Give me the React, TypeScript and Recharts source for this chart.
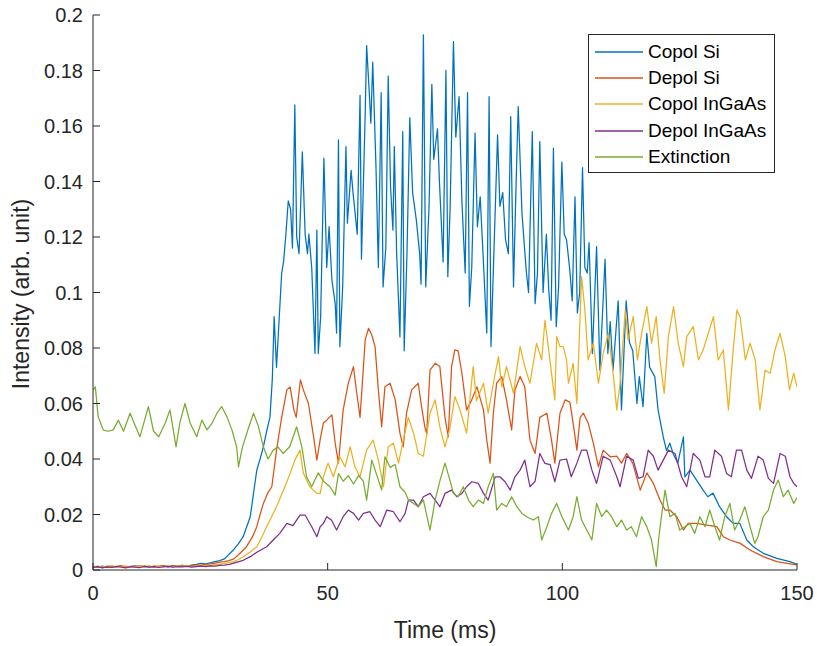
import React from "react";
import { LineChart, Line, XAxis, YAxis, Legend } from "recharts";

const xTicks = [0, 50, 100, 150];
const yTicks = [0, 0.02, 0.04, 0.06, 0.08, 0.1, 0.12, 0.14, 0.16, 0.18, 0.2];
const yTickLabels = ["0", "0.02", "0.04", "0.06", "0.08", "0.1", "0.12", "0.14", "0.16", "0.18", "0.2"];
const xTickLabels = ["0", "50", "100", "150"];

const seriesNames = ["Copol Si", "Depol Si", "Copol InGaAs", "Depol InGaAs", "Extinction"];
const seriesColors = ["#0072BD", "#D95319", "#EDB120", "#7E2F8E", "#77AC30"];

// [time (ms), intensity]
const copolSi: number[][] = [
  [0, 0.0012], [1, 0.001], [2, 0.0014], [3, 0.0009], [4, 0.0013], [5, 0.0011], [6, 0.0015], [7, 0.001], [8, 0.0012], [9, 0.0016],
  [10, 0.0011], [11, 0.0013], [12, 0.001], [13, 0.0014], [14, 0.0012], [15, 0.0015], [16, 0.0011], [17, 0.0016], [18, 0.0013], [19, 0.0017],
  [20, 0.0014], [21, 0.0018], [22, 0.002], [23, 0.0024], [24, 0.0022], [25, 0.0026], [26, 0.003], [27, 0.0034], [28, 0.004],
  [29.9, 0.0072], [31, 0.0095], [32, 0.012], [33.5, 0.0192], [34.2, 0.0276], [34.9, 0.036], [35.6, 0.04], [36.3, 0.0444], [37, 0.05], [37.7, 0.055],
  [38.2, 0.0685], [38.6, 0.0913], [39.1, 0.073], [40.2, 0.107], [40.6, 0.111], [41.1, 0.121], [41.6, 0.133], [42.1, 0.13], [42.5, 0.116], [43.0, 0.1676],
  [43.4, 0.12], [43.9, 0.114], [44.3, 0.1345], [44.6, 0.1507], [45.2, 0.121], [45.7, 0.114], [46.0, 0.121], [46.6, 0.109], [47.3, 0.078], [47.7, 0.1225],
  [48.0, 0.078], [48.5, 0.091], [49.2, 0.1484], [49.8, 0.109], [50.3, 0.1237], [50.9, 0.1045], [51.6, 0.096], [51.9, 0.0854], [52.3, 0.155], [52.6, 0.0805],
  [53.2, 0.102], [53.9, 0.1526], [54.2, 0.125], [55.0, 0.144], [55.4, 0.136], [56.3, 0.121], [56.9, 0.171], [57.2, 0.112], [58.0, 0.1647], [58.3, 0.189],
  [58.8, 0.174], [59.2, 0.161], [59.6, 0.183], [60.3, 0.145], [60.8, 0.109], [61.4, 0.172], [61.8, 0.102], [62.4, 0.1165], [62.9, 0.178], [63.4, 0.138],
  [63.9, 0.1225], [64.2, 0.1526], [64.7, 0.114], [65.4, 0.084], [66.0, 0.158], [66.3, 0.079], [66.9, 0.114], [67.5, 0.163], [68.1, 0.136], [68.9, 0.126],
  [69.6, 0.114], [69.9, 0.103], [70.4, 0.1928], [70.9, 0.102], [71.6, 0.131], [72.2, 0.175], [72.6, 0.148], [73.4, 0.159], [73.8, 0.1405], [74.6, 0.111],
  [75.2, 0.18], [75.6, 0.1057], [76.1, 0.131], [76.8, 0.1904], [77.3, 0.156], [78.0, 0.1706], [78.6, 0.133], [79.3, 0.107], [79.8, 0.172], [80.2, 0.095],
  [80.7, 0.109], [81.4, 0.1575], [81.9, 0.1237], [82.5, 0.1345], [83.1, 0.114], [83.9, 0.0854], [84.4, 0.1706], [84.8, 0.0805], [85.3, 0.108], [86.2, 0.1568],
  [86.7, 0.131], [87.3, 0.136], [87.9, 0.119], [88.5, 0.114], [89.0, 0.1634], [89.6, 0.102], [90.1, 0.136], [90.6, 0.167], [91.4, 0.1286], [92.3, 0.108],
  [92.8, 0.1], [93.6, 0.158], [94.2, 0.096], [94.7, 0.107], [95.2, 0.1544], [95.9, 0.1], [96.6, 0.121], [97.1, 0.101], [97.6, 0.09], [98.1, 0.152],
  [98.7, 0.0877], [99.2, 0.102], [99.9, 0.147], [100.4, 0.121], [100.9, 0.119], [101.6, 0.108], [102.1, 0.097], [102.7, 0.1345], [103.2, 0.0926], [103.7, 0.1],
  [104.3, 0.145], [104.8, 0.109], [105.3, 0.107], [105.7, 0.118], [106.4, 0.078], [107.3, 0.1165], [108.0, 0.072], [109.1, 0.112], [109.7, 0.078], [110.2, 0.0895],
  [110.8, 0.072], [111.9, 0.097], [112.6, 0.0577], [113.6, 0.097], [114.3, 0.082], [115.0, 0.079], [115.9, 0.06], [116.4, 0.0697], [117.2, 0.0589], [118.0, 0.0853],
  [118.6, 0.073], [119.7, 0.0697], [120.4, 0.0577], [121.5, 0.048], [122.2, 0.043], [122.9, 0.0457], [123.6, 0.042], [124.6, 0.0385], [125.8, 0.048], [126.1, 0.0336],
  [127.2, 0.036], [128.6, 0.0324], [130.0, 0.0288], [131.0, 0.0264], [132.1, 0.0277], [133.5, 0.0228], [135.0, 0.0192], [136.4, 0.0168], [137.8, 0.0168], [139.3, 0.0108],
  [140.7, 0.0084], [142.8, 0.006], [145.7, 0.0042], [148.5, 0.003], [150, 0.002],
];

const depolSi: number[][] = [
  [0, 0.001], [1, 0.0013], [2, 0.0009], [3, 0.0014], [4, 0.0011], [5, 0.0012], [6, 0.0016], [7, 0.001], [8, 0.0013], [9, 0.0011],
  [10, 0.0015], [11, 0.0012], [12, 0.0014], [13, 0.001], [14, 0.0013], [15, 0.0016], [16, 0.0012], [17, 0.0015], [18, 0.0013], [19, 0.0017],
  [20, 0.0014], [21, 0.0016], [22, 0.0018], [23, 0.0017], [24, 0.002], [25, 0.0022], [26, 0.0025], [27, 0.0028], [28, 0.003], [29, 0.0034],
  [30, 0.004], [31, 0.0055], [32.7, 0.0084], [34, 0.012], [34.9, 0.0156], [35.6, 0.02], [36.3, 0.024], [37.3, 0.028], [38.1, 0.03], [39.1, 0.0432],
  [40.2, 0.055], [41.3, 0.0649], [42, 0.066], [42.8, 0.0577], [43.3, 0.055], [44.2, 0.0685], [44.8, 0.065], [45.9, 0.06], [47, 0.048], [47.7, 0.0396],
  [48.4, 0.047], [49.1, 0.053], [49.8, 0.054], [50.9, 0.0559], [51.6, 0.0457], [52.3, 0.0385], [53.3, 0.0577], [54.4, 0.0673], [55.5, 0.0733], [56.2, 0.0637],
  [56.9, 0.055], [58.0, 0.0829], [58.7, 0.0871], [59.4, 0.0847], [60.1, 0.0805], [60.8, 0.0649], [61.5, 0.0516], [62.2, 0.066], [63.3, 0.0673], [64.4, 0.0613],
  [65.4, 0.0493], [66.1, 0.0444], [66.8, 0.0565], [67.9, 0.0649], [69.3, 0.0673], [70.0, 0.0589], [70.7, 0.0516], [71.1, 0.049], [71.8, 0.072], [72.9, 0.0745],
  [73.9, 0.0733], [75.0, 0.055], [75.7, 0.048], [76.4, 0.0733], [77.1, 0.0793], [77.8, 0.079], [78.6, 0.0709], [79.6, 0.0577], [80.7, 0.0613], [81.8, 0.066],
  [83.2, 0.0577], [83.9, 0.0468], [84.6, 0.0385], [85.3, 0.0565], [86.0, 0.0673], [87.1, 0.0697], [88.1, 0.0613], [89.2, 0.0505], [89.9, 0.0649], [91.0, 0.0697],
  [92.0, 0.066], [93.1, 0.0468], [94.2, 0.042], [95.2, 0.055], [96.7, 0.0565], [97.7, 0.0468], [98.4, 0.0385], [99.5, 0.0565], [100.6, 0.0613], [101.6, 0.0605],
  [102.3, 0.0529], [103.1, 0.0432], [103.8, 0.055], [104.5, 0.0565], [105.5, 0.053], [106.6, 0.0457], [107.7, 0.0372], [108.7, 0.0432], [110.2, 0.0408], [111.6, 0.041],
  [112.6, 0.0385], [113.7, 0.042], [115.0, 0.0385], [116.6, 0.0288], [118.0, 0.035], [119.4, 0.0312], [120.8, 0.0252], [121.9, 0.0216], [122.9, 0.0216], [124.4, 0.0192],
  [125.8, 0.0144], [126.8, 0.0168], [128.6, 0.0168], [130.8, 0.0162], [132.9, 0.0156], [134.3, 0.012], [135.7, 0.0108], [137.9, 0.0096], [140, 0.0072], [142.8, 0.0048],
  [145.7, 0.003], [149.2, 0.002], [150, 0.0018],
];

const copolInGaAs: number[][] = [
  [0, 0.0011], [1, 0.0014], [2, 0.001], [3, 0.0013], [4, 0.0016], [5, 0.0011], [6, 0.0013], [7, 0.0015], [8, 0.001], [9, 0.0014],
  [10, 0.0012], [11, 0.0016], [12, 0.0011], [13, 0.0013], [14, 0.0015], [15, 0.0012], [16, 0.0014], [17, 0.0011], [18, 0.0015], [19, 0.0013],
  [20, 0.0016], [21, 0.0012], [22, 0.0015], [23, 0.0014], [24, 0.0017], [25, 0.0016], [26, 0.0019], [27, 0.002], [28, 0.0024], [29, 0.0027],
  [30, 0.003], [31, 0.0038], [32, 0.0048], [33.5, 0.0065], [34.9, 0.0084], [36, 0.012], [37, 0.0156], [38, 0.019], [39.1, 0.0228], [40.6, 0.0288],
  [42, 0.0348], [43, 0.0396], [44.1, 0.0432], [44.8, 0.035], [46.2, 0.03], [47.7, 0.0276], [48.4, 0.0276], [49.1, 0.0336], [49.8, 0.0372], [50.1, 0.0385],
  [51.2, 0.0336], [52.6, 0.0408], [53.7, 0.0372], [54.8, 0.0444], [55.8, 0.0372], [56.9, 0.0336], [58.3, 0.0432], [59.7, 0.0468], [60.8, 0.0396], [61.9, 0.03],
  [62.9, 0.0444], [64, 0.0457], [65.1, 0.0385], [66.1, 0.0468], [67.2, 0.055], [68.3, 0.0493], [69.3, 0.042], [70.4, 0.041], [71.8, 0.0565], [72.9, 0.0613],
  [73.9, 0.0516], [75, 0.0444], [76.1, 0.0516], [77.1, 0.0625], [78.2, 0.0577], [79.6, 0.0493], [81, 0.0733], [81.7, 0.061], [83.2, 0.0673], [84.2, 0.0565],
  [85.3, 0.0673], [86.4, 0.0769], [87.1, 0.066], [88.1, 0.0733], [89.6, 0.0637], [91, 0.0805], [92, 0.0733], [93.1, 0.0673], [94.5, 0.0817], [95.6, 0.0757],
  [96.3, 0.09], [97.4, 0.075], [98.4, 0.0613], [98.8, 0.0841], [99.5, 0.0805], [100.2, 0.0805], [100.9, 0.0757], [101.3, 0.0673], [102.3, 0.0745], [103.1, 0.06],
  [104.1, 0.1057], [104.8, 0.094], [105.5, 0.0757], [106.6, 0.0817], [107.7, 0.0673], [108.7, 0.078], [109.8, 0.0853], [110.9, 0.0697], [111.6, 0.0577], [112.3, 0.0673],
  [113.4, 0.0937], [114, 0.0829], [115.1, 0.0913], [116, 0.0757], [116.9, 0.0853], [118, 0.0949], [119, 0.0817], [120, 0.0913], [120.8, 0.0757], [121.7, 0.0637],
  [122.6, 0.0841], [123.7, 0.0949], [124.7, 0.0817], [125.8, 0.0733], [126.5, 0.0841], [127.9, 0.0877], [129, 0.0757], [130, 0.0793], [131.1, 0.0853], [132.2, 0.0913],
  [133.2, 0.0757], [134.3, 0.0793], [135.4, 0.0577], [136.4, 0.0793], [137.2, 0.0937], [137.9, 0.091], [139, 0.0757], [140, 0.0817], [141.1, 0.0757], [142.1, 0.0577],
  [143.2, 0.072], [144.3, 0.0709], [145.3, 0.0793], [146.4, 0.0853], [147.5, 0.0769], [148.4, 0.0649], [149.3, 0.0709], [150, 0.066],
];

const depolInGaAs: number[][] = [
  [0, 0.0009], [1, 0.0012], [2, 0.0008], [3, 0.0011], [4, 0.0009], [5, 0.0013], [6, 0.001], [7, 0.0008], [8, 0.0012], [9, 0.001],
  [10, 0.0009], [11, 0.0013], [12, 0.001], [13, 0.0012], [14, 0.0009], [15, 0.0011], [16, 0.0013], [17, 0.001], [18, 0.0012], [19, 0.0011],
  [20, 0.0013], [21, 0.001], [22, 0.0012], [23, 0.0014], [24, 0.0012], [25, 0.0015], [26, 0.0014], [27, 0.0017], [28, 0.0018], [29, 0.002],
  [30, 0.0025], [32, 0.0035], [33.5, 0.0048], [35, 0.0065], [37, 0.0084], [38.5, 0.011], [39.8, 0.0132], [41.3, 0.0168], [42.6, 0.016], [44.1, 0.0198],
  [45.2, 0.0198], [46.6, 0.0156], [47.7, 0.012], [48.4, 0.0156], [49.1, 0.0168], [49.8, 0.0192], [50.8, 0.018], [51.9, 0.0144], [53.3, 0.0192], [54.4, 0.0216],
  [55.5, 0.0204], [56.6, 0.018], [57.6, 0.0204], [59, 0.021], [60.1, 0.018], [61.2, 0.0156], [62.6, 0.0216], [64, 0.021], [65.4, 0.0174], [66.5, 0.0204],
  [67.2, 0.0252], [68.3, 0.0252], [69.3, 0.0228], [70.4, 0.0264], [71.8, 0.0276], [72.9, 0.0252], [73.9, 0.0228], [75, 0.0276], [76.4, 0.0288], [77.5, 0.0264],
  [78.6, 0.0276], [79.6, 0.03], [80.7, 0.0318], [82.1, 0.0312], [83.2, 0.0276], [84.2, 0.0252], [85.7, 0.0336], [86.7, 0.0336], [87.8, 0.0318], [88.9, 0.0288],
  [89.9, 0.0336], [91, 0.036], [92, 0.0396], [93.1, 0.03], [94.2, 0.032], [95.2, 0.042], [96.3, 0.0384], [97.4, 0.038], [98.4, 0.0318], [99.5, 0.0396],
  [100.9, 0.04], [101.9, 0.0336], [103.1, 0.0385], [104.1, 0.0432], [105.2, 0.0432], [106.3, 0.036], [107.3, 0.0312], [108.7, 0.041], [110.2, 0.0396], [111.6, 0.0336],
  [112.3, 0.03], [113.7, 0.041], [115.1, 0.0396], [116.2, 0.033], [117.2, 0.0336], [118.3, 0.0432], [119.4, 0.041], [120.4, 0.036], [121.5, 0.0396], [122.6, 0.0432],
  [124, 0.042], [125.4, 0.0336], [126.5, 0.03], [127.9, 0.042], [129.3, 0.0396], [130.4, 0.0336], [131.4, 0.0336], [132.5, 0.0432], [133.9, 0.041], [135, 0.0348],
  [136, 0.0336], [137.1, 0.0432], [138.2, 0.0432], [139.3, 0.036], [140.3, 0.033], [141.7, 0.041], [142.8, 0.0396], [143.9, 0.033], [145, 0.0312], [146.4, 0.042],
  [147.5, 0.041], [148.5, 0.0336], [149.3, 0.0312], [150, 0.03],
];

const extinction: number[][] = [
  [0, 0.0649], [0.5, 0.066], [1.1, 0.0552], [2.2, 0.0504], [3.3, 0.05], [4.3, 0.0505], [5.4, 0.054], [6.5, 0.05], [7.9, 0.0565], [9, 0.052],
  [10, 0.048], [11.8, 0.0589], [12.9, 0.05], [14, 0.048], [15.4, 0.053], [16.4, 0.0577], [17.7, 0.0444], [18.5, 0.053], [19.6, 0.06], [20.7, 0.053],
  [22.1, 0.048], [23.2, 0.054], [24.3, 0.0505], [25.4, 0.053], [26.4, 0.0565], [27.4, 0.0589], [28.6, 0.055], [29.6, 0.0505], [30.6, 0.0444], [31, 0.0372],
  [31.8, 0.044], [32.9, 0.05], [34.2, 0.0565], [35.2, 0.052], [36.3, 0.0444], [37.3, 0.04], [38.4, 0.0432], [39.4, 0.0444], [40.5, 0.042], [41.9, 0.0444],
  [43.4, 0.0516], [44.5, 0.0444], [45.5, 0.0336], [46.6, 0.03], [48, 0.035], [49.1, 0.032], [50.5, 0.03], [51.6, 0.027], [52.3, 0.0348], [53.3, 0.032],
  [54.4, 0.034], [55.5, 0.031], [56.6, 0.034], [57.6, 0.032], [58.3, 0.0252], [59.4, 0.0396], [60.5, 0.034], [61.5, 0.0288], [62.2, 0.0408], [63.3, 0.037],
  [64.4, 0.038], [65.4, 0.03], [66.5, 0.028], [67.2, 0.0252], [68.3, 0.024], [69.3, 0.0228], [70.4, 0.0252], [71.8, 0.0144], [72.9, 0.0252], [73.9, 0.032],
  [75, 0.0385], [76.1, 0.032], [76.8, 0.0276], [77.8, 0.0264], [78.9, 0.03], [80, 0.0252], [81, 0.0228], [82.1, 0.0252], [83.2, 0.024], [84.2, 0.03],
  [85.3, 0.0348], [86, 0.0216], [87.1, 0.024], [88.1, 0.0228], [89.2, 0.0264], [90.3, 0.0228], [91.4, 0.0204], [92.4, 0.0192], [93.8, 0.018], [94.9, 0.0192],
  [95.6, 0.0108], [96.7, 0.0156], [97.7, 0.0204], [98.8, 0.024], [99.9, 0.0192], [101.3, 0.0144], [102.3, 0.0192], [103.1, 0.0264], [104.1, 0.018], [105.2, 0.0144],
  [106.3, 0.0108], [107.3, 0.024], [108.4, 0.0192], [109.4, 0.0216], [110.5, 0.0192], [111.6, 0.0156], [112.6, 0.018], [113.7, 0.0144], [114.7, 0.0156], [115.8, 0.012],
  [116.9, 0.0192], [118, 0.0156], [119, 0.0108], [120, 0.0012], [120.5, 0.0108], [121.2, 0.0204], [121.9, 0.0288], [122.9, 0.0192], [124, 0.0204], [125, 0.0144],
  [126.1, 0.0156], [127.2, 0.0168], [128.2, 0.0132], [129.3, 0.0192], [130.4, 0.0156], [131.4, 0.0216], [132.5, 0.0156], [133.5, 0.0108], [134.6, 0.0192], [135.7, 0.024],
  [136.7, 0.0144], [137.8, 0.018], [138.9, 0.0228], [140, 0.0156], [141, 0.0096], [141.7, 0.012], [142.8, 0.0192], [143.9, 0.0216], [145, 0.0288], [146, 0.0324],
  [147.1, 0.0264], [148.1, 0.0288], [149.3, 0.024], [150, 0.026],
];

const allSeries = [copolSi, depolSi, copolInGaAs, depolInGaAs, extinction];

const FONT = "'Liberation Sans', Arial, Helvetica, sans-serif";
const INK = "#262626";

const toRows = (pts: number[][]) => pts.map(([t, v]) => ({ t, v }));

const BottomTick = (props: any) => {
  const { x, y, payload, index } = props;
  return (
    <g>
      <line x1={x} x2={x} y1={y} y2={y - 7} stroke={INK} strokeWidth={1} />
      <text x={x} y={y + 30} textAnchor="middle" fontSize={20} fill={INK} fontFamily={FONT}>
        {xTickLabels[index] ?? String(payload.value)}
      </text>
    </g>
  );
};

const LeftTick = (props: any) => {
  const { x, y, index, payload } = props;
  return (
    <g>
      <line x1={x} x2={x + 7} y1={y} y2={y} stroke={INK} strokeWidth={1} />
      <text x={x - 10} y={y + 7} textAnchor="end" fontSize={20} fill={INK} fontFamily={FONT}>
        {yTickLabels[index] ?? String(payload.value)}
      </text>
    </g>
  );
};

const TopTick = (props: any) => {
  const { x, y } = props;
  return <line x1={x} x2={x} y1={y} y2={y + 7} stroke={INK} strokeWidth={1} />;
};

const RightTick = (props: any) => {
  const { x, y } = props;
  return <line x1={x} x2={x - 7} y1={y} y2={y} stroke={INK} strokeWidth={1} />;
};

const LegendBox = () => (
  <div
    style={{
      width: 187,
      height: 139,
      border: `1px solid ${INK}`,
      background: "#fff",
      boxSizing: "border-box",
      position: "relative",
      fontFamily: FONT,
      fontSize: 19,
    }}
  >
    {seriesNames.map((n, i) => (
      <div
        key={n}
        style={{
          position: "absolute",
          left: 6,
          top: 8 + i * 26.2,
          height: 18,
          display: "flex",
          alignItems: "center",
          whiteSpace: "nowrap",
        }}
      >
        <svg width={48} height={4} style={{ display: "block" }}>
          <line x1={0} x2={48} y1={2} y2={2} stroke={seriesColors[i]} strokeWidth={1.5} />
        </svg>
        <span style={{ marginLeft: 5, color: "#000", lineHeight: "18px" }}>{n}</span>
      </div>
    ))}
  </div>
);

export default function App() {
  return (
    <div style={{ position: "absolute", left: 0, top: 0, width: 817, height: 646, background: "#fff" }}>
      <LineChart width={817} height={646} margin={{ top: 15, right: 20, bottom: 0, left: 0 }}>
        <XAxis
          xAxisId="b"
          dataKey="t"
          type="number"
          domain={[0, 150]}
          ticks={xTicks}
          allowDataOverflow
          height={76}
          tickSize={0}
          tickMargin={0}
          tickLine={false}
          axisLine={{ stroke: INK, strokeWidth: 1 }}
          tick={<BottomTick />}
          interval={0}
        />
        <XAxis
          xAxisId="top"
          orientation="top"
          dataKey="t"
          type="number"
          domain={[0, 150]}
          ticks={xTicks}
          allowDataOverflow
          height={0}
          tickSize={0}
          tickMargin={0}
          tickLine={false}
          axisLine={{ stroke: INK, strokeWidth: 1 }}
          tick={<TopTick />}
          interval={0}
        />
        <YAxis
          yAxisId="l"
          type="number"
          domain={[0, 0.2]}
          ticks={yTicks}
          allowDataOverflow
          width={93}
          tickSize={0}
          tickMargin={0}
          tickLine={false}
          axisLine={{ stroke: INK, strokeWidth: 1 }}
          tick={<LeftTick />}
          interval={0}
        />
        <YAxis
          yAxisId="r"
          orientation="right"
          type="number"
          domain={[0, 0.2]}
          ticks={yTicks}
          allowDataOverflow
          width={0}
          tickSize={0}
          tickMargin={0}
          tickLine={false}
          axisLine={{ stroke: INK, strokeWidth: 1 }}
          tick={<RightTick />}
          interval={0}
        />
        {allSeries.map((pts, i) => (
          <Line
            key={seriesNames[i]}
            xAxisId="b"
            yAxisId="l"
            data={toRows(pts)}
            dataKey="v"
            name={seriesNames[i]}
            type="linear"
            stroke={seriesColors[i]}
            strokeWidth={1.25}
            strokeLinejoin="round"
            dot={false}
            activeDot={false}
            isAnimationActive={false}
          />
        ))}
        <Legend
          layout="vertical"
          align="center"
          verticalAlign="middle"
          content={<LegendBox />}
          wrapperStyle={{ left: 588, top: 34, width: 187, height: 139, margin: 0 }}
        />
      </LineChart>
      <svg width={817} height={646} style={{ position: "absolute", left: 0, top: 0, pointerEvents: "none" }}>
        <text x={445} y={638} textAnchor="middle" fontSize={23} fill={INK} fontFamily={FONT}>
          Time (ms)
        </text>
        <text
          x={29}
          y={294}
          textAnchor="middle"
          fontSize={23}
          fill={INK}
          fontFamily={FONT}
          transform="rotate(-90 29 294)"
        >
          Intensity (arb. unit)
        </text>
      </svg>
    </div>
  );
}
